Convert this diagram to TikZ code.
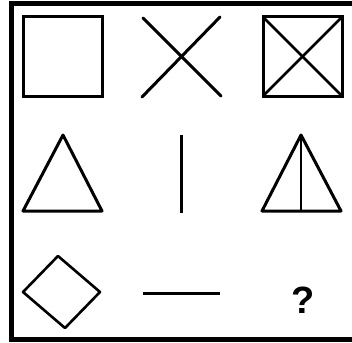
\documentclass[tikz,border=0pt]{standalone}
\usepackage{fontspec}
\newfontfamily\qfont{Liberation Sans}
\begin{document}
\begin{tikzpicture}[x=1pt,y=-1pt,
  fig/.style={draw=black,line width=3pt,line join=miter},
  frame/.style={draw=black,line width=5pt},
  qmark/.style={font=\qfont\bfseries\fontsize{38}{38}\selectfont,inner sep=0pt}]
\useasboundingbox (0,0) rectangle (352,342);
\clip (0,0) rectangle (352,342);
% outer frame (right side lies outside the picture)
\draw[frame] (360,4) -- (11.5,4) -- (11.5,339.5) -- (360,339.5);
% row 1
\draw[fig] (23,17) rectangle (102,96);
\draw[fig,line cap=round] (143,18) -- (221,96);
\draw[fig,line cap=round] (220,17) -- (142,97);
\draw[fig] (263,17) rectangle (342,96);
\draw[fig,line width=2.6pt] (263,17) -- (342,96);
\draw[fig,line width=2.6pt] (342,17) -- (263,96);
% row 2
\draw[fig,line join=round] (63,135) -- (102,211) -- (23,211) -- cycle;
\draw[fig] (181,135) -- (181,213);
\draw[fig,line join=round] (301,135) -- (341,211) -- (262,211) -- cycle;
\draw[fig,line width=2.4pt] (301,135) -- (301,211);
% row 3
\draw[fig,line width=2.6pt,line join=round] (58,256) -- (100,292) -- (65,328) -- (23,292) -- cycle;
\draw[fig] (143,293) -- (220,293);
\node[qmark] (q) at (303,300) {?};
\end{tikzpicture}
\end{document}
